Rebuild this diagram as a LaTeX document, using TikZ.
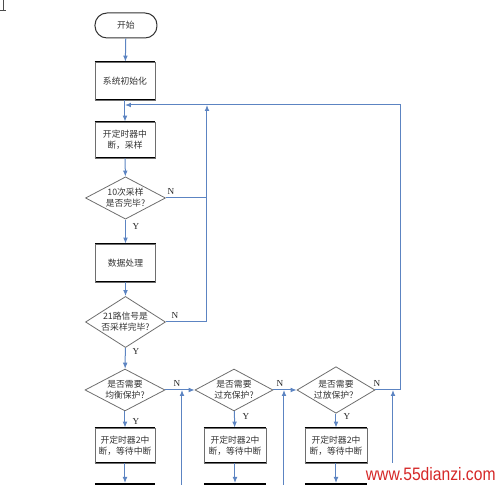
\documentclass[tikz,border=0pt]{standalone}
\usepackage{graphicx}
\usepackage{fontspec}
\setmainfont{Liberation Serif}
\newfontfamily\cjk{Noto Sans CJK SC}
\newfontfamily\wmfont{Liberation Sans}
\usetikzlibrary{shapes.geometric,arrows.meta}
\definecolor{flow}{RGB}{92,132,194}
\definecolor{edgegray}{RGB}{110,110,110}
\definecolor{wmred}{RGB}{214,40,40}
\tikzset{
  cjktext/.style={font=\cjk\fontsize{4.4pt}{5.4pt}\selectfont, align=center, text=black!80},
  procbox/.style={cjktext, shape=rectangle, draw=edgegray, line width=0.4pt,
    minimum width=30pt, minimum height=18pt, inner sep=0pt,
    append after command={\pgfextra{\draw[black, line width=0.9pt]
      (\tikzlastnode.north west) -- (\tikzlastnode.north east)
      (\tikzlastnode.south west) -- (\tikzlastnode.south east);}}},
  termbox/.style={cjktext, shape=rectangle, rounded corners=6pt, draw=black!80, line width=0.5pt,
    minimum width=31pt, minimum height=12.5pt, inner sep=0pt},
  decbox/.style={cjktext, shape=diamond, draw=edgegray, line width=0.4pt,
    inner sep=-2pt, minimum width=40pt, minimum height=20pt},
  flowline/.style={draw=flow, line width=0.5pt},
  flowarrow/.style={flowline, -{Latex[length=3pt,width=2.4pt]}},
  yn/.style={font=\fontsize{4.6pt}{5pt}\selectfont, text=black!85, inner sep=0pt},
  bar/.style={draw=black, line width=1.4pt}
}
\begin{document}
\begin{tikzpicture}[x=0.5pt,y=-0.5pt]
\useasboundingbox (0,0) rectangle (500,485);
% small corner mark
\draw[black!70, line width=0.4pt] (3,0) -- (3,10.5) (0,10.5) -- (6.5,10.5);

% nodes
\node[termbox] (start) at (126,25.5) {开始};
\node[procbox, minimum height=19pt] (init) at (125,81) {系统初始化};
\node[procbox] (samp) at (125,140) {开定时器中\\断，采样};
\node[decbox] (d1) at (125.5,198) {10次采样\\是否完毕?};
\node[procbox, minimum height=19pt] (proc) at (125.5,263) {数据处理};
\node[decbox, minimum height=22pt] (d2) at (125.5,322) {21路信号是\\否采样完毕?};
\node[decbox, minimum height=19pt] (d3) at (125,390) {是否需要\\均衡保护?};
\node[decbox, minimum width=39pt] (d4) at (234,390) {是否需要\\过充保护?};
\node[decbox, minimum width=39pt] (d5) at (336,390) {是否需要\\过放保护？};
\node[procbox, minimum height=17.5pt] (t1) at (125,445.5) {开定时器2中\\断，等待中断};
\node[procbox, minimum width=31pt, minimum height=17.5pt] (t2) at (235,445.5) {开定时器2中\\断，等待中断};
\node[procbox, minimum width=31pt, minimum height=17.5pt] (t3) at (336,445.5) {开定时器2中\\断，等待中断};

% coordinates
\coordinate (j0) at (125,105);
\coordinate (j1) at (207,105);
\coordinate (topR) at (401,105);
\coordinate (botR) at (401,390);
\coordinate (d1r) at (207,198);
\coordinate (d2r) at (207,322);
\coordinate (u1b) at (182,485);
\coordinate (u1t) at (182,390);
\coordinate (u2b) at (284,485);
\coordinate (u2t) at (284,390);
\coordinate (u3b) at (393,485);
\coordinate (u3t) at (393,390);
\coordinate (b1) at (125,483);
\coordinate (b2) at (235,483);
\coordinate (b3) at (336,483);

% bottom bars (tops of next boxes)
\draw[bar] (95,484) -- (155,484);
\draw[bar] (204,484) -- (266,484);
\draw[bar] (305,484) -- (367,484);

% main flow
\draw[flowarrow] (start) -- (init);
\draw[flowarrow] (init) -- (samp);
\draw[flowarrow] (samp) -- (d1);
\draw[flowarrow] (d1) -- (proc);
\draw[flowarrow] (proc) -- (d2);
\draw[flowarrow] (d2) -- (d3);
\draw[flowarrow] (d3) -- (t1);
\draw[flowarrow] (d4) -- (t2);
\draw[flowarrow] (d5) -- (t3);
\draw[flowarrow] (t1) -- (b1);
\draw[flowarrow] (t2) -- (b2);
\draw[flowarrow] (t3) -- (b3);

% horizontal chain
\draw[flowarrow] (d3.east) -- (d4.west);
\draw[flowarrow] (d4.east) -- (d5.west);
\draw[flowarrow] (u1b) -- (u1t);
\draw[flowarrow] (u2b) -- (u2t);
\draw[flowarrow] (u3b) -- (u3t);

% feedback loops
\draw[flowline] (d1.east) -- (d1r);
\draw[flowarrow] (d2.east) -- (d2r) -- (j1);
\draw[flowarrow] (d5.east) -- (botR) -- (topR) -- (j0);

% labels
\node[yn] (n1) at (171,191) {N};
\node[yn] (n2) at (175,315) {N};
\node[yn] (n3) at (177,383) {N};
\node[yn] (n4) at (280,383) {N};
\node[yn] (n5) at (377,383) {N};
\node[yn] (y1) at (136,226) {Y};
\node[yn] (y2) at (136,351) {Y};
\node[yn] (y3) at (136,421) {Y};
\node[yn] (y4) at (246,416) {Y};
\node[yn] (y5) at (347,416) {Y};

% watermark
\fill[white] (369,463) rectangle (500,485);
\node[font=\wmfont\fontsize{9pt}{10pt}\selectfont, text=wmred, inner sep=0pt, anchor=east] (wm) at (496,474.5) {\scalebox{0.87}[1]{www.55dianzi.com}};
\end{tikzpicture}
\end{document}
